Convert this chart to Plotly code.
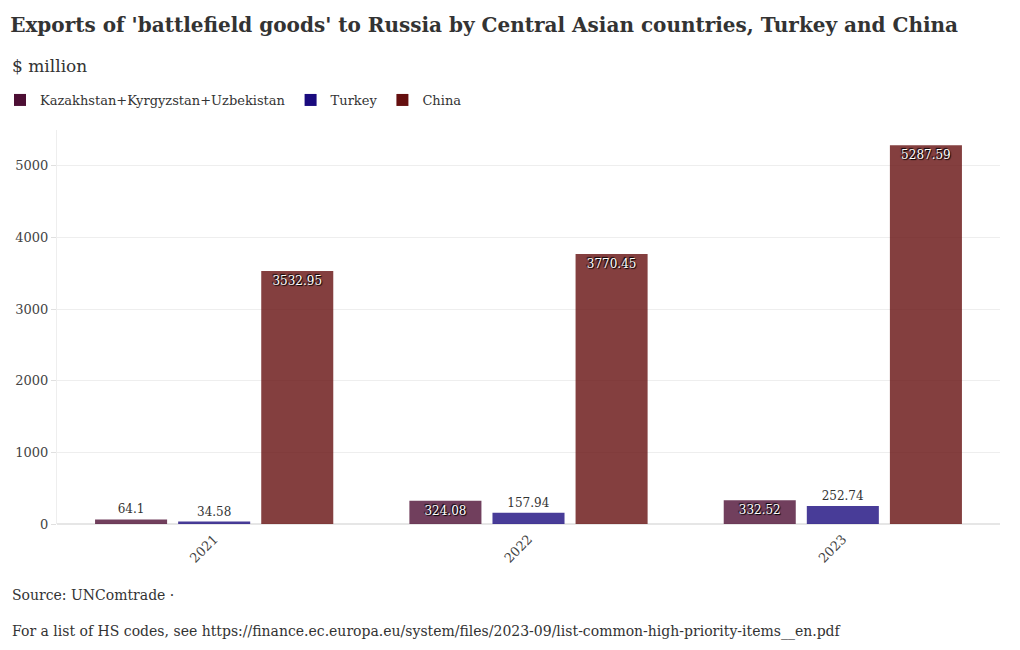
import plotly.graph_objects as go

years = ["2021", "2022", "2023"]
series_names = ["Kazakhstan+Kyrgyzstan+Uzbekistan", "Turkey", "China"]
kgz_uzb = [64.1, 324.08, 332.52]
turkey = [34.58, 157.94, 252.74]
china = [3532.95, 3770.45, 5287.59]
colors = ["#4d0f34", "#1a0b7e", "#650f0f"]
y_ticks = [0, 1000, 2000, 3000, 4000, 5000]

FONT = "DejaVu Serif"
W, H = 1020, 650
ML, MR, MT, MB = 57, 20, 130, 126
PW, PH = W - ML - MR, H - MT - MB


def px_x(px):
    return (px - ML) / PW


def px_y(py):
    return (H - MB - py) / PH


fig = go.Figure()
for name, vals, col in zip(series_names, [kgz_uzb, turkey, china], colors):
    fig.add_trace(go.Bar(
        x=years, y=vals, name=name,
        marker=dict(color=col, opacity=0.8, line=dict(width=0)),
        text=[f"{v:g}" for v in vals],
        textposition="auto",
        insidetextanchor="end",
        insidetextfont=dict(color="white", size=12, family=FONT,
                            shadow="1px 1px 1px #000, -1px -1px 1px #000"),
        outsidetextfont=dict(color="#333333", size=12, family=FONT),
        textangle=0,
        cliponaxis=False,
    ))

fig.update_layout(
    width=W, height=H,
    paper_bgcolor="white", plot_bgcolor="white",
    font=dict(family=FONT, color="#333333", size=13),
    barmode="group", bargap=0.207, bargroupgap=0.133,
    margin=dict(l=ML, r=MR, t=MT, b=MB),
    showlegend=True,
    legend=dict(orientation="h", x=0.0, y=1 - 85 / H, xref="container", yref="container",
                yanchor="top", xanchor="left", itemwidth=30,
                font=dict(size=13, family=FONT, color="#333333"),
                tracegroupgap=0),
    title=dict(text="<b>Exports of 'battlefield goods' to Russia by Central Asian countries, Turkey and China</b>",
               x=0.01, xanchor="left", y=1 - 18 / H, yanchor="top",
               font=dict(size=20, family=FONT, color="#333333")),
    xaxis=dict(type="category", tickangle=-45, showgrid=False, showline=False,
               ticks="", ticklabelstandoff=4,
               tickfont=dict(size=13, family=FONT, color="#444444")),
    yaxis=dict(range=[0, 5500], tickvals=y_ticks, showgrid=True, gridcolor="#eeeeee",
               zeroline=True, zerolinecolor="#e6e6e6", showline=True, linecolor="#eeeeee",
               ticks="outside", ticklen=5, tickcolor="#e0e0e0",
               tickfont=dict(size=13, family=FONT, color="#444444")),
)

fig.add_annotation(text="$ million", xref="paper", yref="paper", x=px_x(10), y=px_y(66),
                   xanchor="left", yanchor="middle", showarrow=False,
                   font=dict(size=17, family=FONT, color="#333333"))
fig.add_annotation(text="Source: UNComtrade ·", xref="paper", yref="paper",
                   x=px_x(10), y=px_y(595), xanchor="left", yanchor="middle", showarrow=False,
                   font=dict(size=14, family=FONT, color="#333333"))
fig.add_annotation(text="For a list of HS codes, see https://finance.ec.europa.eu/system/files/2023-09/list-common-high-priority-items__en.pdf",
                   xref="paper", yref="paper",
                   x=px_x(10), y=px_y(631), xanchor="left", yanchor="middle", showarrow=False,
                   font=dict(size=14, family=FONT, color="#333333"))

fig.write_html("out.html", config={"displayModeBar": False},
               post_script="document.body.style.margin='0px';")
